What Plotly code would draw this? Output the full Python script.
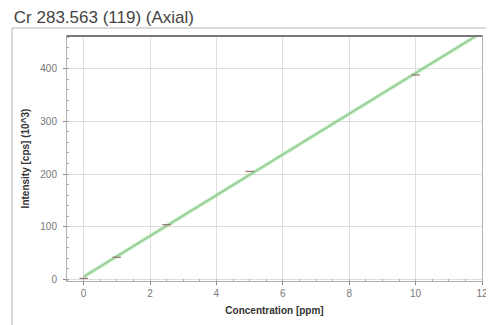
import numpy as np
import plotly.graph_objects as go

title = "Cr 283.563 (119) (Axial)"
concentration = [0, 1, 2.5, 5, 10]
intensity = [2, 42, 104, 205, 388]
x_ticks = [0, 2, 4, 6, 8, 10, 12]
y_ticks = [0, 100, 200, 300, 400]

slope, intercept = np.polyfit(concentration, intensity, 1)
fit_x = [0, 12]
fit_y = [slope * v + intercept for v in fit_x]

fig = go.Figure()
fig.add_trace(go.Scatter(x=fit_x, y=fit_y, mode="lines",
                         line=dict(color="rgba(150,225,150,0.7)", width=3.5),
                         hoverinfo="skip", showlegend=False))
fig.add_trace(go.Scatter(x=fit_x, y=fit_y, mode="lines",
                         line=dict(color="rgba(120,150,120,0.6)", width=1),
                         showlegend=False))
fig.add_trace(go.Scatter(x=concentration, y=intensity, mode="markers",
                         marker=dict(symbol="line-ew", size=6,
                                     line=dict(color="#9a7a7a", width=1.3)),
                         cliponaxis=False, showlegend=False))

axis_common = dict(showgrid=True, gridcolor="#dedede", gridwidth=1,
                   showline=True, linecolor="#b0b0b0", linewidth=1, mirror=True,
                   ticks="outside", ticklen=3, tickcolor="#888",
                   tickfont=dict(family="Liberation Sans", size=10, color="#777"),
                   zeroline=False, automargin=False,
                   minor=dict(ticks="inside", ticklen=2, tickcolor="#aaa", showgrid=False))

fig.update_xaxes(range=[-0.5, 12], tickvals=x_ticks,
                 minor_dtick=0.5,
                 title=dict(text="<b>Concentration [ppm]</b>", standoff=8,
                            font=dict(family="Liberation Sans", size=10, color="#333")),
                 **axis_common)
fig.update_yaxes(range=[-3, 462], tickvals=y_ticks,
                 minor_dtick=20, ticklabelstandoff=4,
                 title=dict(text="<b>Intensity [cps] (10^3)</b>", standoff=8,
                            font=dict(family="Liberation Sans", size=10, color="#333")),
                 **axis_common)

fig.add_shape(type="rect", xref="paper", yref="paper",
              x0=-0.1325, x1=1.2, y0=-0.3, y1=1.0327,
              line=dict(color="#b5b5b5", width=1), layer="above")
fig.add_shape(type="line", xref="paper", yref="paper",
              x0=0, x1=1, y0=1, y1=1,
              line=dict(color="#777", width=2))

fig.update_layout(
    width=486, height=317,
    margin=dict(l=59, r=12, t=28, b=44),
    paper_bgcolor="white", plot_bgcolor="white",
    title=dict(text=title, x=0.012, xref="container", xanchor="left",
               y=0.99, yref="container", yanchor="top",
               font=dict(family="Liberation Sans", size=17, color="#444")),
)

fig.write_html("out.html")
